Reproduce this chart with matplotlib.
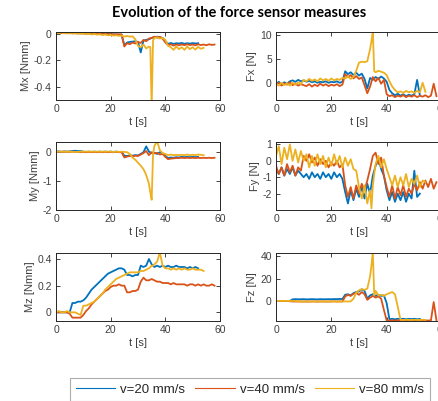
import numpy as np
import matplotlib
matplotlib.use('Agg')
import matplotlib.pyplot as plt

plt.rcParams['font.family'] = ['Liberation Sans', 'DejaVu Sans']
plt.rcParams['axes.unicode_minus'] = False

# time bases (s) for the three runs
t_20 = np.arange(53)
t_40 = np.arange(59)
t_80 = np.r_[np.arange(35), 34.5, 35, 35.5, np.arange(36, 55)]

labels = ['v=20 mm/s', 'v=40 mm/s', 'v=80 mm/s']
colors = ['#0072BD', '#D95319', '#EDB120']

# Mx [Nmm]
mx_20 = [0.012, 0.010, 0.011, 0.009, 0.010, 0.008, 0.009, 0.007, 0.008, 0.006,
         0.006, 0.005, 0.004, 0.004, 0.003, 0.002, 0.002, 0.001, 0.000, 0.000,
         -0.002, -0.003, -0.004, -0.004, -0.005, -0.085, -0.065, -0.060, -0.058, -0.055,
         -0.060, -0.140, -0.050, -0.045, -0.040, -0.030, -0.025, -0.020, -0.025, -0.030,
         -0.055, -0.075, -0.068, -0.075, -0.070, -0.072, -0.068, -0.074, -0.070, -0.073,
         -0.069, -0.072, -0.070]
mx_40 = [0.008, 0.012, 0.006, 0.010, 0.005, 0.009, 0.004, 0.008, 0.003, 0.006,
         0.004, 0.002, 0.005, 0.001, 0.003, 0.000, 0.002, -0.001, 0.000, -0.002,
         -0.001, -0.003, -0.002, -0.004, -0.003, -0.095, -0.070, -0.078, -0.065, -0.072,
         -0.060, -0.068, -0.045, -0.055, -0.035, -0.030, -0.020, -0.028, -0.022, -0.035,
         -0.065, -0.085, -0.078, -0.088, -0.080, -0.086, -0.079, -0.085, -0.078, -0.084,
         -0.080, -0.086, -0.078, -0.084, -0.080, -0.085, -0.078, -0.083, -0.080]
mx_80 = [0.010, 0.005, 0.012, 0.004, 0.010, 0.003, 0.009, 0.002, 0.007, 0.001,
         0.005, -0.002, 0.003, -0.004, 0.000, -0.005, -0.002, -0.008, -0.004, -0.010,
         -0.008, -0.012, -0.010, -0.014, -0.012, -0.020, -0.015, -0.020, -0.018, -0.040,
         -0.090, -0.100, -0.080, -0.110, -0.095,
         -0.100, -0.550, -0.050,
         -0.030, -0.025, -0.035, -0.030, -0.045, -0.090, -0.100, -0.120, -0.095, -0.115,
         -0.100, -0.120, -0.095, -0.115, -0.100, -0.118, -0.098, -0.112, -0.105]

# Fx [N]
fx_20 = [-0.3, 0.2, -0.4, 0.1, -0.2, 0.3, 0.5, 0.2, 0.6, 0.3,
         0.5, 0.2, 0.4, 0.1, 0.3, 0.0, 0.2, 0.1, 0.3, 0.0,
         0.2, 0.1, 0.3, 0.0, 0.2, 2.4, 1.8, 2.2, 1.6, 2.1,
         1.5, 1.9, 0.8, -1.2, 1.0, 0.6, 1.2, 0.8, 1.3, 0.9,
         0.2, -1.5, -2.2, -2.6, -2.3, -2.7, -2.4, -2.8, -2.5, -2.7,
         -2.4, 0.6, -2.6]
fx_40 = [-0.5, 0.0, -0.6, -0.1, -0.4, 0.1, -0.5, -0.2, -0.6, -0.3,
         -0.5, -0.7, -0.3, -0.8, -0.4, -0.7, -0.2, -0.6, -0.3, -0.7,
         -0.4, -0.6, -0.3, -0.7, -0.4, 1.8, 1.2, 1.6, 0.9, 1.4,
         0.8, 1.1, -0.5, -2.2, -0.8, 1.2, 0.3, 1.0, -0.2, 0.6,
         -2.4, -2.8, -2.6, -3.0, -2.7, -2.9, -2.6, -3.0, -2.7, -2.9,
         -2.6, -3.0, -2.7, -2.9, -2.6, -3.0, -2.7, -0.2, -2.8]
fx_80 = [-0.2, -0.6, 0.0, -0.5, -0.1, -0.6, 0.0, -0.4, 0.1, -0.3,
         0.6, 0.3, 0.8, 0.4, 0.7, 0.3, 0.9, 0.5, 0.8, 0.4,
         0.9, 0.5, 0.8, 0.6, 1.0, 0.9, 1.3, 0.8, 1.2, 2.5,
         4.2, 4.4, 4.3, 4.5, 7.0,
         8.7, 10.7, 2.4,
         2.2, 2.5, 2.3, 2.1, 1.6, 0.3, -0.8, -1.5, -2.0, -1.8,
         -2.1, -1.7, -2.0, -1.8, -2.1, -1.7, -2.0, 0.0, -1.9]

# My [Nmm]
my_20 = [0.00, 0.01, -0.01, 0.01, 0.00, 0.01, 0.02, 0.03, 0.02, 0.02,
         0.00, -0.01, 0.00, -0.01, 0.00, -0.01, 0.00, -0.01, 0.00, -0.01,
         0.00, -0.01, 0.00, -0.01, -0.01, -0.14, -0.15, -0.13, -0.14, -0.12,
         -0.13, -0.08, -0.02, 0.18, 0.00, -0.05, -0.04, -0.08, -0.02, -0.06,
         -0.15, -0.22, -0.20, -0.21, -0.19, -0.20, -0.18, -0.19, -0.18, -0.19,
         -0.18, -0.19, -0.18]
my_40 = [0.00, -0.01, 0.00, -0.01, 0.00, -0.01, 0.00, -0.01, -0.01, -0.02,
         -0.01, -0.02, -0.01, -0.02, -0.01, -0.02, -0.01, -0.02, -0.01, -0.02,
         -0.01, -0.02, -0.01, -0.02, -0.02, -0.20, -0.17, -0.15, -0.16, -0.14,
         -0.15, -0.10, -0.05, 0.02, -0.12, -0.02, -0.06, -0.04, -0.10, -0.08,
         -0.18, -0.26, -0.24, -0.23, -0.22, -0.22, -0.21, -0.22, -0.21, -0.22,
         -0.21, -0.22, -0.21, -0.22, -0.21, -0.22, -0.21, -0.22, -0.21]
my_80 = [0.00, 0.00, 0.00, 0.00, 0.00, 0.00, -0.01, -0.01, -0.01, 0.00,
         0.00, 0.00, 0.00, 0.00, 0.00, 0.00, 0.00, 0.00, 0.00, 0.00,
         0.00, -0.01, 0.00, -0.01, 0.00, -0.01, -0.02, -0.08, -0.20, -0.28,
         -0.38, -0.48, -0.60, -0.80, -1.10,
         -1.40, -1.65, -0.10,
         0.20, 0.35, 0.05, -0.05, -0.08, -0.12, -0.10, -0.12, -0.11, -0.12,
         -0.11, -0.12, -0.10, -0.12, -0.11, -0.12, -0.10, -0.11, -0.12]

# Fy [N]
fy_20 = [-0.5, -0.8, -0.4, -0.9, -0.5, -0.8, -0.4, -0.9, -0.6, -0.8,
         -1.0, -0.8, -1.1, -0.7, -1.0, -0.8, -1.1, -0.7, -1.0, -0.8,
         -1.1, -0.7, -1.0, -0.8, -1.1, -1.9, -2.6, -1.8, -2.4, -1.7,
         -2.2, -1.6, -2.3, -1.4, -2.0, -0.9, -0.3, 0.2, -0.5, -0.9,
         -1.8, -2.4, -1.9, -2.5, -2.0, -2.4, -1.9, -2.5, -2.0, -2.3,
         -0.6, -2.2, -2.0]
fy_40 = [-0.3, -0.8, -0.4, -0.9, -0.2, -0.7, -0.3, -0.9, -0.4, -0.6,
         0.3, 0.0, 0.4, -0.1, 0.2, -0.3, 0.1, -0.2, 0.0, -0.4,
         -0.1, -0.3, 0.0, -0.4, -0.2, -1.5, -2.2, -1.6, -2.3, -1.5,
         -2.0, -1.4, -1.8, -1.2, -0.5, 0.3, 0.5, -0.2, 0.2, -0.9,
         -1.6, -2.2, -1.5, -2.3, -1.6, -2.1, -1.5, -2.2, -1.7, -2.0,
         -1.4, -1.8, -1.3, -1.7, -1.2, -1.6, -1.1, -1.7, -1.3]
fy_80 = [0.3, 0.9, -0.2, 0.8, 0.1, 1.0, 0.0, 0.7, -0.1, 0.6,
         0.0, 0.4, -0.4, 0.3, -0.3, 0.4, -0.2, 0.3, -0.4, 0.2,
         -0.3, 0.4, -0.2, 0.3, -0.4, 0.2, -0.3, 0.1, -0.5, -0.6,
         -1.6, -2.3, -1.5, -2.6, -1.8,
         -2.9, -1.5, -0.8,
         -0.2, 0.3, -0.4, 0.1, -0.5, -1.0, -1.5, -0.9, -1.6, -1.0,
         -1.5, -0.8, -1.6, -1.1, -1.4, -0.9, -1.6, -1.2, -1.3]

# Mz [Nmm]
mz_20 = [0.00, 0.00, 0.00, 0.00, 0.00, 0.00, 0.07, 0.07, 0.08, 0.08,
         0.09, 0.11, 0.14, 0.17, 0.19, 0.21, 0.23, 0.25, 0.27, 0.29,
         0.30, 0.31, 0.32, 0.33, 0.33, 0.32, 0.28, 0.28, 0.27, 0.28,
         0.28, 0.35, 0.34, 0.35, 0.40, 0.36, 0.34, 0.35, 0.34, 0.35,
         0.34, 0.35, 0.34, 0.34, 0.35, 0.34, 0.34, 0.34, 0.33, 0.34,
         0.33, 0.34, 0.33]
mz_40 = [0.00, 0.00, 0.00, 0.00, 0.00, -0.01, -0.04, -0.04, -0.04, -0.04,
         -0.02, 0.01, 0.03, 0.06, 0.08, 0.10, 0.12, 0.14, 0.16, 0.17,
         0.19, 0.20, 0.20, 0.21, 0.20, 0.20, 0.15, 0.15, 0.16, 0.16,
         0.17, 0.23, 0.26, 0.24, 0.24, 0.25, 0.24, 0.23, 0.23, 0.22,
         0.22, 0.22, 0.21, 0.22, 0.21, 0.21, 0.21, 0.21, 0.20, 0.21,
         0.21, 0.20, 0.21, 0.20, 0.21, 0.20, 0.20, 0.21, 0.20]
mz_80 = [0.00, 0.01, 0.00, 0.00, 0.01, 0.00, 0.00, 0.00, -0.01, -0.02,
         0.05, 0.05, 0.06, 0.07, 0.08, 0.10, 0.12, 0.14, 0.17, 0.19,
         0.21, 0.23, 0.25, 0.26, 0.27, 0.28, 0.29, 0.30, 0.30, 0.30,
         0.30, 0.31, 0.31, 0.32, 0.33,
         0.34, 0.35, 0.35,
         0.36, 0.38, 0.45, 0.35, 0.33, 0.33, 0.32, 0.33, 0.32, 0.33,
         0.32, 0.33, 0.32, 0.32, 0.33, 0.32, 0.32, 0.32, 0.31]

# Fz [N]
fz_20 = [0.0, 0.0, 0.0, 0.0, 0.0, 0.0, 1.4, 1.6, 1.5, 1.5,
         1.6, 1.4, 1.5, 1.6, 1.5, 1.4, 1.6, 1.5, 1.5, 1.6,
         1.5, 1.7, 1.6, 1.8, 1.7, 5.5, 6.0, 5.0, 7.0, 8.0,
         8.5, 10.5, 9.0, 2.0, 5.0, 6.0, 4.5, 5.5, 4.5, 5.0,
         -2.0, -16.5, -16.0, -16.5, -16.0, -16.3, -16.0, -16.4, -16.1, -16.3,
         -16.0, -16.4, -16.2]
fz_40 = [0.0, 0.0, 0.0, 0.0, 0.0, -0.3, -0.5, -0.5, -0.5, -0.5,
         -0.6, -0.5, -0.6, -0.5, -0.5, -0.6, -0.5, -0.5, -0.6, -0.5,
         -0.5, -0.4, -0.5, -0.4, -0.5, 4.0, 5.5, 4.5, 6.5, 7.0,
         5.5, 8.0, 6.0, 1.0, 3.0, 4.5, 3.0, 4.0, 2.0, -8.0,
         -17.5, -17.6, -17.4, -17.6, -17.5, -17.5, -17.6, -17.4, -17.6, -17.5,
         -17.5, -17.6, -17.4, -17.6, -17.5, -17.6, -17.4, -1.0, -17.5]
fz_80 = [0.0, 0.0, 0.0, 0.0, 0.0, 0.0, 0.0, 0.0, -0.5, -0.4,
         -0.5, -0.6, -0.5, -0.4, -0.5, -0.6, -0.5, -0.4, -0.5, -0.6,
         -0.5, -0.4, -0.5, -0.6, -0.5, -0.4, -0.5, -0.4, 2.0, 7.5,
         9.5, 10.5, 10.0, 11.0, 22.0,
         32.0, 44.0, 5.0,
         9.0, 5.0, 5.5, 4.5, 6.0, 7.0, 8.0, 6.0, -5.0, -17.0,
         -17.1, -16.9, -17.0, -17.1, -16.9, -17.0, -17.1, -16.9, -17.0]

panels = [
    ('Mx [Nmm]', (mx_20, mx_40, mx_80), (-0.5, 0.015), [-0.4, -0.2, 0]),
    ('Fx [N]', (fx_20, fx_40, fx_80), (-3.6, 10.6), [0, 5, 10]),
    ('My [Nmm]', (my_20, my_40, my_80), (-2.0, 0.33), [-2, -1, 0]),
    ('Fy [N]', (fy_20, fy_40, fy_80), (-3.0, 1.15), [-2, -1, 0, 1]),
    ('Mz [Nmm]', (mz_20, mz_40, mz_80), (-0.065, 0.445), [0, 0.2, 0.4]),
    ('Fz [N]', (fz_20, fz_40, fz_80), (-18, 43), [0, 20, 40]),
]
times = (t_20, t_40, t_80)

W, H = 439, 401
fig = plt.figure(figsize=(W / 100, H / 100), dpi=100)
col_x = [(56, 164), (276, 166)]
row_y = [(32, 100), (142, 210), (253, 321)]
txt = '#404040'

handles = []
for i, (ylab, series, ylim, yticks) in enumerate(panels):
    r, c = divmod(i, 2)
    x0, w = col_x[c]
    y0, y1 = row_y[r]
    ax = fig.add_axes([x0 / W, 1 - y1 / H, w / W, (y1 - y0) / H])
    for t, y, col, lab in zip(times, series, colors, labels):
        ln, = ax.plot(t, y, color=col, lw=1.3, label=lab)
        if i == 0:
            handles.append(ln)
    ax.set_xlim(0, 60)
    ax.set_ylim(*ylim)
    ax.set_xticks([0, 20, 40, 60])
    ax.set_yticks(yticks)
    ax.set_yticklabels(['%g' % v for v in yticks])
    ax.tick_params(direction='in', length=3, width=0.6, colors='#262626',
                   labelcolor=txt, labelsize=7.5, top=True, right=True, pad=3)
    for s in ax.spines.values():
        s.set_color('#262626')
        s.set_linewidth(0.7)
    ax.set_xlabel('t [s]', fontsize=8, color=txt, labelpad=2)
    ax.set_ylabel(ylab, fontsize=8, color=txt, labelpad=2)

fig.text(239 / W, 1 - 13 / H, 'Evolution of the force sensor measures',
         ha='center', va='center', fontsize=10.5, fontweight='bold',
         family=['Lato', 'DejaVu Sans'], color='black')

leg = fig.legend(handles, labels, loc='upper center', ncol=3,
                 bbox_to_anchor=(250 / W, 1 - 378 / H), borderaxespad=0,
                 frameon=True, fancybox=False, fontsize=9.5, handlelength=3.0,
                 handletextpad=0.38, columnspacing=0.75, borderpad=0.4)
leg.get_frame().set_edgecolor('#999999')
leg.get_frame().set_linewidth(0.8)
for lh in leg.get_lines():
    lh.set_linewidth(0.8)
for tx in leg.get_texts():
    tx.set_color('#262626')

fig.savefig('out.png', dpi=100)
